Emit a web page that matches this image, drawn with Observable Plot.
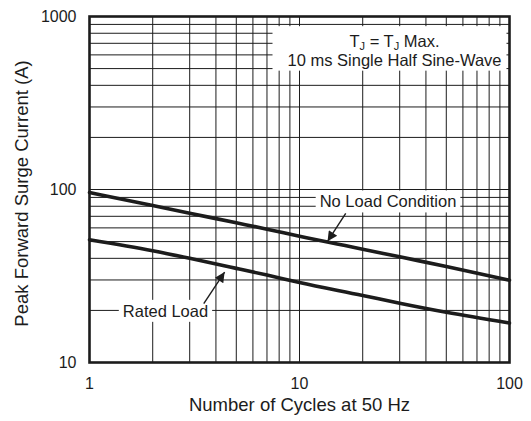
<!DOCTYPE html>
<html><head><meta charset="utf-8">
<script src="https://cdn.jsdelivr.net/npm/d3@7"></script>
<script src="https://cdn.jsdelivr.net/npm/@observablehq/plot@0.6"></script>
<style>
html,body{margin:0;padding:0;background:#fff;}
#chart svg{display:block;}
</style></head><body><div id="chart"></div>
<script>
// ---- data ----
const cycles    = [1, 2, 3, 5, 7, 10, 20, 30, 50, 100];
const noLoad    = [96, 80.7, 72.9, 64.2, 59.0, 53.6, 45.2, 40.8, 35.9, 29.9];
const ratedLoad = [51.2, 44.2, 40.0, 35.0, 32.0, 29.0, 24.4, 22.0, 19.5, 16.9];
const seriesNames = ["No Load Condition", "Rated Load"];

const xTicks = [1, 10, 100];
const yTicks = [10, 100, 1000];
const xGrid = [1,2,3,4,5,6,7,8,9,10,20,30,40,50,60,70,80,90,100];
const yGrid = [10,20,30,40,50,60,70,80,90,100,200,300,400,500,600,700,800,900,1000];

const legendLines = ["T_J = T_J Max.", "10 ms Single Half Sine-Wave"];
const xTitle = "Number of Cycles at 50 Hz";
const yTitle = "Peak Forward Surge Current (A)";

// annotation anchors (data units)
const labelX = [26.4, 2.3];
const labelY = [84.5, 19.7];
const arrowFromX = [16.6, 3.5];
const arrowFromY = [72.7, 21.9];
const arrowToX = [13.6, 4.4];
const arrowToY = [50.2, 33.3];

// ---- tables built from the arrays ----
const rows = [];
cycles.forEach((c, i) => {
  rows.push({c, v: noLoad[i], s: seriesNames[0]});
  rows.push({c, v: ratedLoad[i], s: seriesNames[1]});
});
const labels = seriesNames.map((s, i) => ({s, x: labelX[i], y: labelY[i]}));
const arrows = seriesNames.map((s, i) => ({x1: arrowFromX[i], y1: arrowFromY[i], x2: arrowToX[i], y2: arrowToY[i]}));

const ink = "#1c1c1c";
const chart = Plot.plot({
  width: 531, height: 421,
  marginLeft: 89, marginRight: 22, marginTop: 16, marginBottom: 59,
  style: {fontFamily: "'Liberation Sans', Arial, Helvetica, sans-serif", fontSize: "16px", color: ink, background: "#fff"},
  x: {type: "log", domain: [1, 100], ticks: xTicks, tickFormat: d => String(d), tickSize: 0, tickPadding: 15, label: null},
  y: {type: "log", domain: [10, 1000], ticks: yTicks, tickFormat: d => String(d), tickSize: 0, tickPadding: 13, label: null},
  marks: [
    Plot.gridX(xGrid, {stroke: ink, strokeOpacity: 1, strokeWidth: 1}),
    Plot.gridY(yGrid, {stroke: ink, strokeOpacity: 1, strokeWidth: 1}),
    Plot.line(rows, {x: "c", y: "v", z: "s", stroke: ink, strokeWidth: 3.6, curve: "monotone-x"}),
    Plot.text(labels, {x: "x", y: "y", text: "s", className: "ann", fontSize: 16.5, fill: ink}),
    Plot.link(arrows, {x1: "x1", y1: "y1", x2: "x2", y2: "y2", className: "arw", stroke: ink, strokeWidth: 1.4}),
    Plot.text([legendLines.join("\n")], {frameAnchor: "top-right", textAnchor: "middle", lineAnchor: "middle", lineHeight: 1.12, dx: -115, dy: 34, className: "legend", fontSize: 16.5, fill: ink}),
    Plot.frame({stroke: ink, strokeWidth: 2.6}),
    Plot.text([yTitle], {frameAnchor: "left", textAnchor: "middle", rotate: -90, dx: -67, dy: 4, fontSize: 18.5, fill: ink}),
    Plot.text([xTitle], {frameAnchor: "bottom", textAnchor: "middle", dy: 48, fontSize: 18.5, fill: ink})
  ]
});
document.getElementById("chart").append(chart);

// ---- post-processing: subscripts, label backgrounds, filled arrow heads ----
const ns = "http://www.w3.org/2000/svg";
const svg = chart;
const sr = svg.getBoundingClientRect();

svg.querySelectorAll("g.legend text").forEach(t => {
  const spans = t.querySelectorAll("tspan");
  const target = spans.length ? spans[0] : t;
  const s = target.textContent;
  if (s.includes("_")) {
    target.textContent = "";
    s.split(/_(\w)/).forEach((p, i) => {
      const ts = document.createElementNS(ns, "tspan");
      ts.textContent = p;
      if (i % 2 === 1) { ts.setAttribute("font-size", "11"); ts.setAttribute("dy", "3"); }
      else if (i > 0) ts.setAttribute("dy", "-3");
      target.appendChild(ts);
    });
  }
});

function whiteRect(x0, y0, x1, y1, before) {
  const r = document.createElementNS(ns, "rect");
  r.setAttribute("x", x0); r.setAttribute("y", y0);
  r.setAttribute("width", x1 - x0); r.setAttribute("height", y1 - y0);
  r.setAttribute("fill", "#fff");
  before.parentNode.insertBefore(r, before);
}

const ann = svg.querySelector("g.ann");
ann.querySelectorAll("text").forEach(t => {
  const b = t.getBoundingClientRect();
  whiteRect(b.left - sr.left - 4, b.top - sr.top - 2, b.right - sr.left + 4, b.bottom - sr.top + 2, ann);
});

const lg = svg.querySelector("g.legend");
const lb = lg.querySelector("text").getBoundingClientRect();
whiteRect(lb.left - sr.left - 15, lb.top - sr.top - 6, lb.right - sr.left + 5, lb.bottom - sr.top + 2, lg);

const defs = document.createElementNS(ns, "defs");
defs.innerHTML = '<marker id="ahead" viewBox="0 0 10 10" refX="10" refY="5" markerUnits="userSpaceOnUse" markerWidth="15" markerHeight="10" orient="auto"><path d="M0,0L10,5L0,10z" fill="' + ink + '"/></marker>';
svg.insertBefore(defs, svg.firstChild);
svg.querySelectorAll("g.arw path").forEach(p => p.setAttribute("marker-end", "url(#ahead)"));
</script>
</body></html>
